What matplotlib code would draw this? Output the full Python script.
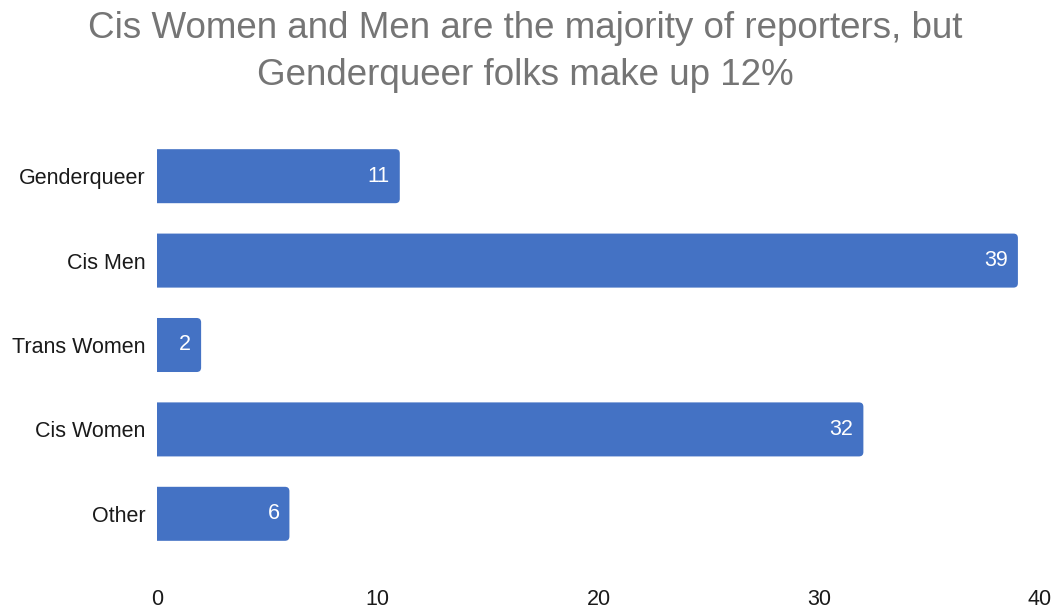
import matplotlib
matplotlib.use("Agg")
import matplotlib.pyplot as plt
from matplotlib.patches import FancyBboxPatch

categories = ["Genderqueer", "Cis Men", "Trans Women", "Cis Women", "Other"]
counts = [11, 39, 2, 32, 6]
x_ticks = [0, 10, 20, 30, 40]

bar_color = "#4472C4"
plt.rcParams["font.family"] = ["Liberation Sans", "DejaVu Sans"]

fig = plt.figure(figsize=(10.57, 6.09), dpi=100)
ax = fig.add_axes([0.1485, 0.087, 0.9839 - 0.1485, 0.693])

positions = list(range(len(categories)))
bars = ax.barh(positions, counts, height=0.64, color=bar_color)
ax.set_xlim(0, 40)
ax.set_ylim(len(categories) - 0.5, -0.5)

# Replace plain rectangles with ones rounded on the right end
for rect in bars:
    rect.set_visible(False)
    x0, y0 = rect.get_x(), rect.get_y()
    w, h = rect.get_width(), rect.get_height()
    patch = FancyBboxPatch((x0 - 0.5, y0), w + 0.5, h,
                           boxstyle="round,pad=0,rounding_size=0.2",
                           mutation_aspect=0.26,
                           facecolor=bar_color, edgecolor="none",
                           clip_on=True)
    ax.add_patch(patch)

for pos, val in zip(positions, counts):
    ax.text(val - 0.45, pos, str(val), ha="right", va="center",
            color="white", fontsize=15.5)

ax.set_yticks(positions)
ax.set_yticklabels(categories, fontsize=15.5, color="#1a1a1a")
ax.set_xticks(x_ticks)
ax.set_xticklabels([str(t) for t in x_ticks], fontsize=15.5, color="#1a1a1a")
ax.tick_params(axis="both", length=0)
ax.tick_params(axis="y", pad=8)
ax.tick_params(axis="x", pad=24)
for spine in ax.spines.values():
    spine.set_visible(False)

fig.text(0.497, 0.982, "Cis Women and Men are the majority of reporters, but\nGenderqueer folks make up 12%",
         ha="center", va="top", fontsize=26.5, color="#757575", linespacing=1.45)

fig.savefig("out.png", dpi=100)
